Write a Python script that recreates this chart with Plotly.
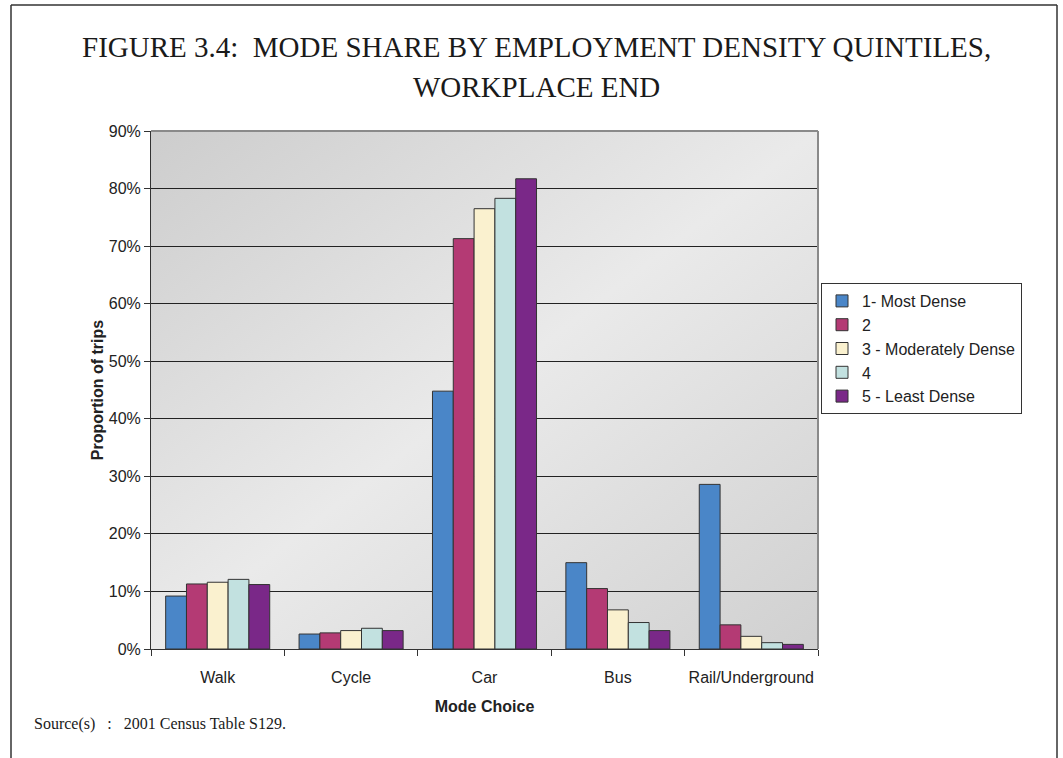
import base64
import plotly.graph_objects as go

categories = ["Walk", "Cycle", "Car", "Bus", "Rail/Underground"]
series_names = ["1- Most Dense", "2", "3 - Moderately Dense", "4", "5 - Least Dense"]
dense1 = [9.2, 2.6, 44.8, 15.0, 28.6]
dense2 = [11.3, 2.8, 71.3, 10.5, 4.2]
dense3 = [11.6, 3.2, 76.5, 6.8, 2.2]
dense4 = [12.1, 3.6, 78.3, 4.6, 1.1]
dense5 = [11.2, 3.2, 81.7, 3.2, 0.8]
series_values = [dense1, dense2, dense3, dense4, dense5]
colors = ["#4a86c8", "#b43a74", "#faf1cf", "#c2e1e0", "#7a2888"]
y_ticks = [0, 10, 20, 30, 40, 50, 60, 70, 80, 90]
y_tick_labels = [f"{v}%" for v in y_ticks]

W, H = 1063, 758
L, R, T, B = 151, 818, 131, 649
pw, ph = R - L, B - T


def px(x):
    return (x - L) / pw


def py(y):
    return (B - y) / ph


fig = go.Figure()
for name, vals, col in zip(series_names, series_values, colors):
    fig.add_trace(go.Bar(
        x=categories, y=vals, name=name,
        marker=dict(color=col, line=dict(color="#333333", width=1)),
    ))

svg = ("<svg xmlns='http://www.w3.org/2000/svg' width='100' height='100' "
       "viewBox='0 0 100 100' preserveAspectRatio='none'><defs>"
       "<linearGradient id='g' x1='0' y1='0' x2='1' y2='1'>"
       "<stop offset='0' stop-color='#cdcdcd'/>"
       "<stop offset='0.5' stop-color='#eaeaea'/>"
       "<stop offset='1' stop-color='#d0d0d0'/>"
       "</linearGradient></defs>"
       "<rect width='100' height='100' fill='url(#g)'/></svg>")
src = "data:image/svg+xml;base64," + base64.b64encode(svg.encode()).decode()

fig.add_layout_image(dict(source=src, xref="paper", yref="paper", x=0, y=1,
                          sizex=1, sizey=1, sizing="stretch", layer="below",
                          xanchor="left", yanchor="top"))

axis_font = dict(family="Liberation Sans, Arial, sans-serif", size=16, color="#222222")
title_font = dict(family="Liberation Sans, Arial, sans-serif", size=16, color="#222222")

fig.update_layout(
    width=W, height=H,
    margin=dict(l=L, r=W - R, t=T, b=H - B, pad=0),
    paper_bgcolor="white", plot_bgcolor="rgba(0,0,0,0)",
    barmode="group", bargap=0.22, bargroupgap=0,
    showlegend=True,
    legend=dict(x=px(821), y=py(283), xanchor="left", yanchor="top",
                bgcolor="white", bordercolor="#333333", borderwidth=1,
                font=dict(family="Liberation Sans, Arial, sans-serif", size=16, color="#222222"),
                tracegroupgap=0),
    xaxis=dict(showline=True, linecolor="#333333", linewidth=1,
               ticks="outside", ticklen=6, tickcolor="#333333", tickson="boundaries",
               tickfont=axis_font, tickangle=0, ticklabelstandoff=14,
               title=dict(text="<b>Mode Choice</b>", font=title_font, standoff=15),
               showgrid=False),
    yaxis=dict(range=[0, 90], tickvals=y_ticks, ticktext=y_tick_labels,
               showline=True, linecolor="#333333", linewidth=1,
               ticks="outside", ticklen=6, tickcolor="#333333",
               tickfont=axis_font,
               showgrid=True, gridcolor="#222222", gridwidth=1,
               zeroline=False,
               title=dict(text="<b>Proportion of trips</b>", font=title_font, standoff=1)),
    font=dict(family="Liberation Sans, Arial, sans-serif"),
)

# plot area top/right border (grey)
fig.add_shape(type="line", xref="paper", yref="paper", x0=0, x1=1, y0=1, y1=1,
              line=dict(color="#8a8a8a", width=2))
fig.add_shape(type="line", xref="paper", yref="paper", x0=1, x1=1, y0=0, y1=1,
              line=dict(color="#8a8a8a", width=2))
# outer frame (top, left, right only)
frame = dict(color="#333333", width=1.5)
fig.add_shape(type="line", xref="paper", yref="paper",
              x0=px(11), x1=px(1057), y0=py(5), y1=py(5), line=frame)
fig.add_shape(type="line", xref="paper", yref="paper",
              x0=px(11), x1=px(11), y0=py(5), y1=py(760), line=frame)
fig.add_shape(type="line", xref="paper", yref="paper",
              x0=px(1057), x1=px(1057), y0=py(5), y1=py(760), line=frame)

serif = "Liberation Serif, Times New Roman, serif"
fig.add_annotation(text="FIGURE 3.4:  MODE SHARE BY EMPLOYMENT DENSITY QUINTILES,",
                   xref="paper", yref="paper", x=px(536), y=py(47),
                   xanchor="center", yanchor="middle", showarrow=False,
                   font=dict(family=serif, size=29, color="#1a1a1a"))
fig.add_annotation(text="WORKPLACE END",
                   xref="paper", yref="paper", x=px(536), y=py(87),
                   xanchor="center", yanchor="middle", showarrow=False,
                   font=dict(family=serif, size=29, color="#1a1a1a"))
fig.add_annotation(text="Source(s)   :   2001 Census Table S129.",
                   xref="paper", yref="paper", x=px(32), y=py(724),
                   xanchor="left", yanchor="middle", showarrow=False,
                   font=dict(family=serif, size=16, color="#1a1a1a"))

fig.write_html("out.html")
